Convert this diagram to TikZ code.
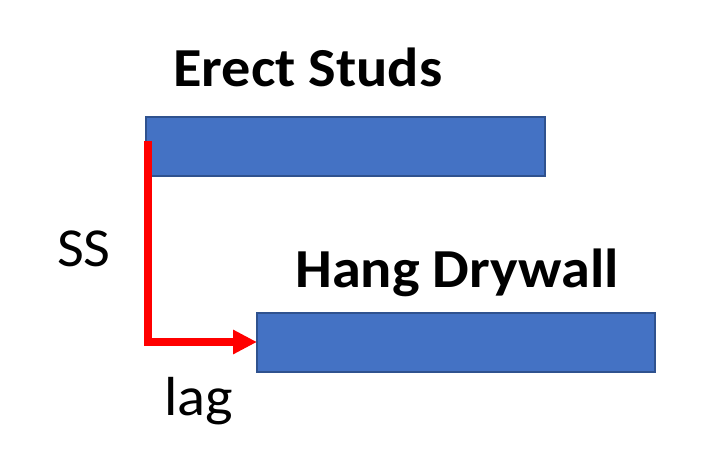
\documentclass[tikz,border=0pt]{standalone}
\usepackage{fontspec}
\setmainfont{Carlito}
\usetikzlibrary{arrows.meta}
\definecolor{barfill}{HTML}{4472C4}
\definecolor{barline}{HTML}{2F528F}
\definecolor{lagred}{HTML}{FF0000}
\tikzset{
  bar/.style={draw=barline, line width=2bp, fill=barfill},
  title/.style={anchor=base west, inner sep=0pt, xscale=1.06, font=\fontsize{55bp}{60bp}\selectfont\bfseries},
  lbl/.style={anchor=base west, inner sep=0pt, xscale=1.06, font=\fontsize{55bp}{60bp}\selectfont},
  link/.style={draw=lagred, line width=8bp, -{Triangle[length=24bp,width=23bp]}}
}
\begin{document}
\begin{tikzpicture}[x=1bp,y=-1bp]
\useasboundingbox (0,0) rectangle (717,459);
\fill[white] (0,0) rectangle (717,459);
\draw[bar] (146,117) rectangle (545,176);
\coordinate (start) at (147.5,141);
\draw[bar] (257,313) rectangle (655,372);
\coordinate (botleft) at (257,342);
\node[title] (t1) at (173,87) {Erect Studs};
\node[title] (t2) at (295,288) {Hang Drywall};
\node[lbl] (ss) at (57,267) {SS};
\node[lbl] (lag) at (164,415) {lag};
\draw[link] (start) |- (botleft);
\end{tikzpicture}
\end{document}
